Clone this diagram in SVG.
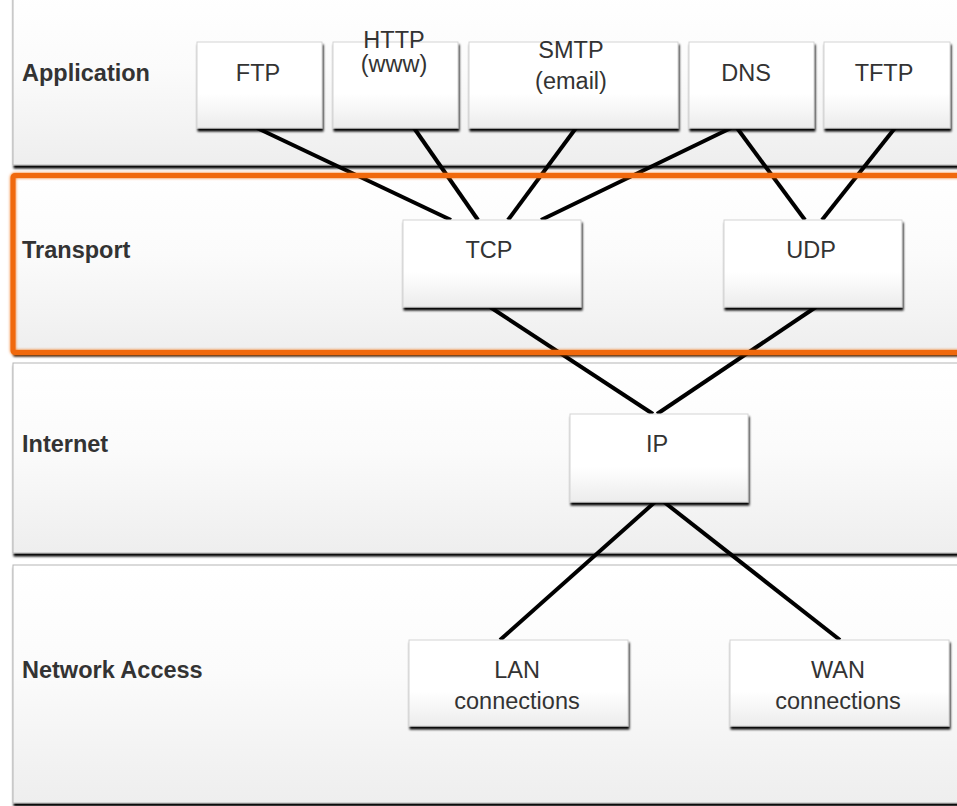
<svg xmlns="http://www.w3.org/2000/svg" width="957" height="806" viewBox="0 0 957 806">
<defs>
<linearGradient id="band" x1="0" y1="0" x2="0" y2="1">
<stop offset="0" stop-color="#ffffff"/>
<stop offset="0.45" stop-color="#fbfbfb"/>
<stop offset="1" stop-color="#eeeeee"/>
</linearGradient>
<linearGradient id="box" x1="0" y1="0" x2="0" y2="1">
<stop offset="0" stop-color="#ffffff"/>
<stop offset="0.6" stop-color="#ffffff"/>
<stop offset="1" stop-color="#ececec"/>
</linearGradient>
<filter id="bandShadow" x="-5%" y="-5%" width="110%" height="115%">
<feGaussianBlur in="SourceAlpha" stdDeviation="1"/>
<feOffset dx="1" dy="2.5" result="b"/>
<feComponentTransfer in="b" result="s"><feFuncA type="linear" slope="1"/></feComponentTransfer>
<feMerge><feMergeNode in="s"/><feMergeNode in="SourceGraphic"/></feMerge>
</filter>
<filter id="boxShadow" x="-5%" y="-5%" width="110%" height="115%">
<feGaussianBlur in="SourceAlpha" stdDeviation="1.2"/>
<feOffset dx="1" dy="2.5" result="b"/>
<feComponentTransfer in="b" result="s"><feFuncA type="linear" slope="1"/></feComponentTransfer>
<feMerge><feMergeNode in="s"/><feMergeNode in="SourceGraphic"/></feMerge>
</filter>
<filter id="glow" x="-5%" y="-10%" width="110%" height="120%">
<feGaussianBlur in="SourceGraphic" stdDeviation="1.5" result="g"/>
<feMerge><feMergeNode in="g"/><feMergeNode in="SourceGraphic"/></feMerge>
</filter>
</defs>
<style>
.band{fill:url(#band);stroke:#b5b5b5;stroke-width:1;filter:url(#bandShadow)}
.box{fill:url(#box);stroke:#d4d4d4;stroke-width:1;filter:url(#boxShadow)}
.layer{font-family:"Liberation Sans",Arial,sans-serif;font-weight:bold;font-size:23.5px;fill:#333333}
.lbl{font-family:"Liberation Sans",Arial,sans-serif;font-size:23.5px;fill:#333333;text-anchor:middle}
.conn line{stroke:#000000;stroke-width:4;stroke-linecap:butt}
</style>
<rect width="957" height="806" fill="#ffffff"/>

<g id="layer-application">
<rect class="band" x="13" y="-10" width="960" height="175"/>
<text class="layer" x="22" y="81">Application</text>
</g>
<g id="layer-transport">
<rect class="band" x="13" y="175" width="960" height="178"/>
<text class="layer" x="22" y="258">Transport</text>
</g>
<g id="layer-internet">
<rect class="band" x="13" y="363" width="960" height="190"/>
<text class="layer" x="22" y="452">Internet</text>
</g>
<g id="layer-network-access">
<rect class="band" x="13" y="565" width="960" height="238"/>
<text class="layer" x="22" y="678">Network Access</text>
</g>

<g id="connectors" class="conn">
<line x1="257" y1="128" x2="451" y2="220"/>
<line x1="414" y1="128" x2="478" y2="220"/>
<line x1="576" y1="128" x2="508" y2="220"/>
<line x1="731" y1="128" x2="541" y2="220"/>
<line x1="737" y1="128" x2="805" y2="220"/>
<line x1="895" y1="128" x2="822" y2="220"/>
<line x1="490" y1="307" x2="653" y2="414"/>
<line x1="816" y1="307" x2="657" y2="414"/>
<line x1="655" y1="502" x2="500" y2="640"/>
<line x1="664" y1="502" x2="840" y2="640"/>
</g>

<g id="highlight">
<rect x="13" y="175.5" width="960" height="177" fill="none" stroke="#f0690f" stroke-width="5" rx="2" filter="url(#glow)"/>
</g>

<g id="node-ftp">
<rect class="box" x="197" y="42" width="125" height="86"/>
<text class="lbl" x="258" y="81">FTP</text>
</g>
<g id="node-http">
<rect class="box" x="333" y="42" width="125" height="86"/>
<text class="lbl" x="394" y="48">HTTP</text>
<text class="lbl" x="394" y="72">(www)</text>
</g>
<g id="node-smtp">
<rect class="box" x="469" y="42" width="209" height="86"/>
<text class="lbl" x="571" y="58">SMTP</text>
<text class="lbl" x="571" y="89">(email)</text>
</g>
<g id="node-dns">
<rect class="box" x="689" y="42" width="125" height="86"/>
<text class="lbl" x="746" y="81">DNS</text>
</g>
<g id="node-tftp">
<rect class="box" x="824" y="42" width="126" height="86"/>
<text class="lbl" x="884" y="81">TFTP</text>
</g>
<g id="node-tcp">
<rect class="box" x="403" y="220" width="178" height="87"/>
<text class="lbl" x="489" y="258">TCP</text>
</g>
<g id="node-udp">
<rect class="box" x="724" y="220" width="178" height="87"/>
<text class="lbl" x="811" y="258">UDP</text>
</g>
<g id="node-ip">
<rect class="box" x="570" y="414" width="178" height="88"/>
<text class="lbl" x="657" y="452">IP</text>
</g>
<g id="node-lan">
<rect class="box" x="409" y="640" width="219" height="86"/>
<text class="lbl" x="517" y="678">LAN</text>
<text class="lbl" x="517" y="709">connections</text>
</g>
<g id="node-wan">
<rect class="box" x="730" y="640" width="219" height="86"/>
<text class="lbl" x="838" y="678">WAN</text>
<text class="lbl" x="838" y="709">connections</text>
</g>
</svg>
